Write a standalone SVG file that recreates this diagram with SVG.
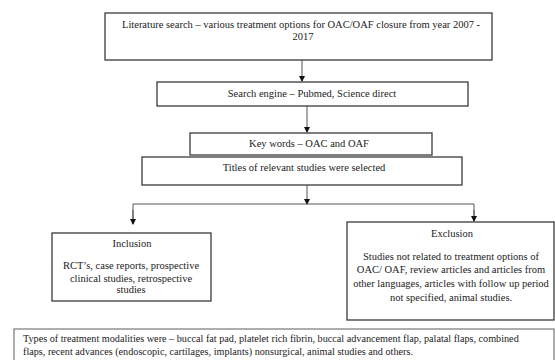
<svg xmlns="http://www.w3.org/2000/svg" width="555" height="360" viewBox="0 0 555 360">
<defs>
<style>
.box{fill:#fff;stroke:#3a3a3a;stroke-width:1.3}
.t{font-family:"Liberation Serif","Times New Roman",serif;font-size:10.5px;fill:#222;text-anchor:middle}
.tl{font-family:"Liberation Serif","Times New Roman",serif;font-size:10.2px;fill:#222}
.c{stroke:#555;stroke-width:1;fill:none}
</style>
<marker id="ah" markerWidth="6" markerHeight="6" refX="5" refY="3" orient="auto" markerUnits="userSpaceOnUse">
<path d="M0,0 L6,3 L0,6 z" fill="#111"/>
</marker>
</defs>
<rect width="555" height="360" fill="#fff"/>
<g id="connectors">
<line class="c" x1="302" y1="60" x2="302" y2="81" marker-end="url(#ah)"/>
<line class="c" x1="307" y1="106" x2="307" y2="132" marker-end="url(#ah)"/>
<line class="c" x1="307" y1="185" x2="307" y2="204" marker-end="url(#ah)"/>
<polyline class="c" points="133,224 133,204 474,204 474,221"/>
<line class="c" x1="133" y1="210" x2="133" y2="224" marker-end="url(#ah)"/>
<line class="c" x1="474" y1="210" x2="474" y2="221" marker-end="url(#ah)"/>
</g>
<g id="literature">
<rect class="box" x="105" y="13" width="387" height="47"/>
<text class="t" x="301" y="28">Literature search – various treatment options for OAC/OAF closure from year 2007 -</text>
<text class="t" x="303" y="40">2017</text>
</g>
<g id="engine">
<rect class="box" x="157" y="82" width="311" height="24"/>
<text class="t" x="312" y="97">Search engine – Pubmed, Science direct</text>
</g>
<g id="keywords">
<rect class="box" x="190" y="133" width="242" height="22"/>
<text class="t" x="309" y="147">Key words – OAC and OAF</text>
</g>
<g id="titles">
<rect class="box" x="142" y="157" width="320" height="28"/>
<text class="t" x="304" y="171">Titles of relevant studies were selected</text>
</g>
<g id="inclusion">
<rect class="box" x="52" y="233" width="159" height="68"/>
<text class="t" x="132" y="247">Inclusion</text>
<text class="t" x="131" y="269">RCT’s, case reports, prospective</text>
<text class="t" x="131" y="282">clinical studies, retrospective</text>
<text class="t" x="131" y="293">studies</text>
</g>
<g id="exclusion">
<rect class="box" x="347" y="222" width="207" height="98"/>
<text class="t" x="452" y="237">Exclusion</text>
<text class="t" x="451" y="260">Studies not related to treatment options of</text>
<text class="t" x="451" y="273">OAC/ OAF, review articles and articles from</text>
<text class="t" x="451" y="287">other languages, articles with follow up period</text>
<text class="t" x="451" y="301">not specified, animal studies.</text>
</g>
<g id="modalities">
<rect x="14" y="329" width="540" height="40" fill="#fff" stroke="#777" stroke-width="1.2"/>
<text class="tl" x="23" y="342">Types of treatment modalities were – buccal fat pad, platelet rich fibrin, buccal advancement flap, palatal flaps, combined</text>
<text class="tl" x="23" y="355">flaps, recent advances (endoscopic, cartilages, implants) nonsurgical, animal studies and others.</text>
</g>
</svg>
